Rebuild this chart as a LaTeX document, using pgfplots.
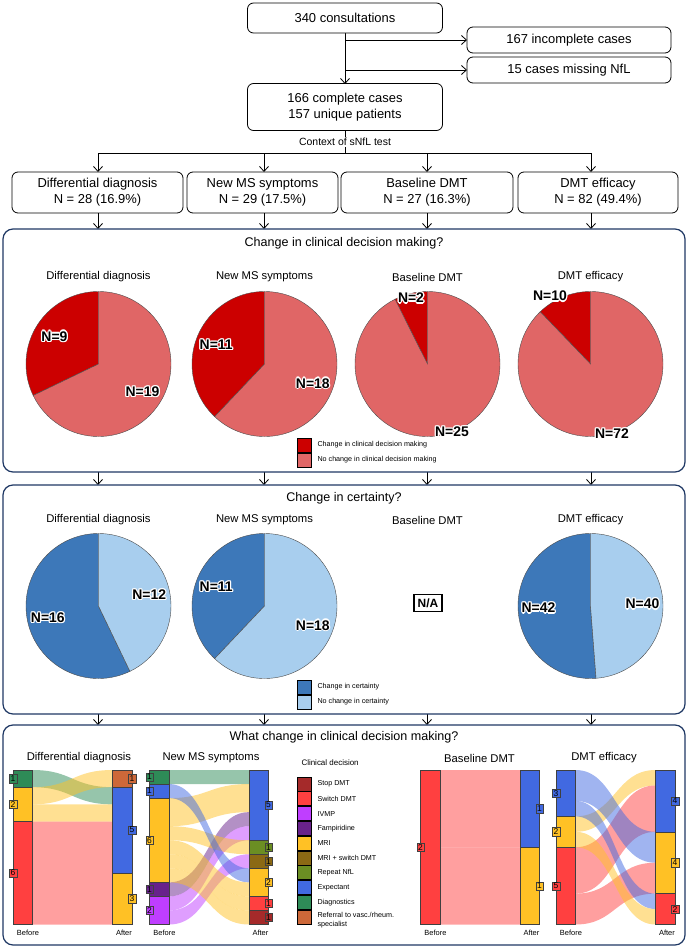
\documentclass[border=0pt]{standalone}
\usepackage{fontspec}
\setmainfont{Liberation Sans}
\usepackage{pgfplots}
\pgfplotsset{compat=1.18}
\usetikzlibrary{arrows.meta}

\definecolor{chg}{RGB}{204,0,0}
\definecolor{nochg}{RGB}{224,102,102}
\definecolor{cert}{RGB}{61,120,185}
\definecolor{nocert}{RGB}{168,206,238}
\definecolor{panel}{RGB}{31,56,100}
\definecolor{cStop}{RGB}{165,42,42}
\definecolor{cSwitch}{RGB}{255,64,64}
\definecolor{cIVMP}{RGB}{191,62,255}
\definecolor{cFamp}{RGB}{104,34,139}
\definecolor{cMRI}{RGB}{255,193,37}
\definecolor{cMRIsw}{RGB}{139,105,20}
\definecolor{cNfL}{RGB}{107,142,35}
\definecolor{cExp}{RGB}{65,105,225}
\definecolor{cDiag}{RGB}{46,139,87}
\definecolor{cRef}{RGB}{205,104,57}

\pgfplotsset{
  pieaxis/.style={anchor=center, width=145bp, height=145bp, scale only axis,
    hide axis, xmin=-1, xmax=1, ymin=-1, ymax=1, clip=false},
  sankaxis/.style={anchor=north west, width=119bp, height=154.5bp, scale only axis,
    hide axis, xmin=0, xmax=119, ymin=0, y dir=reverse, clip=false},
}
\tikzset{lab/.style={draw=black!75, line width=0.4bp, inner sep=1.2bp, minimum width=7.5bp,
    font=\fontsize{8.5}{8.5}\selectfont}}

% pie: centre x, centre y (px from top left), n1, n2, colour 1, colour 2
\newcommand{\pie}[6]{%
  \pgfmathsetmacro{\pa}{90+360*#3/(#3+#4)}%
  \pgfmathsetmacro{\pb}{\pa-360}%
  \begin{axis}[pieaxis, at={(#1bp,-#2bp)}]
    \filldraw[fill=#5, draw=black!70, line width=0.4bp] (axis cs:0,0) -- (axis cs:0,1)
      arc[start angle=90, end angle=\pa, radius=72.5bp] -- cycle;
    \filldraw[fill=#6, draw=black!70, line width=0.4bp] (axis cs:0,0) -- (axis cs:0,1)
      arc[start angle=90, end angle=\pb, radius=72.5bp] -- cycle;
  \end{axis}}

\newcommand{\pielabfont}{\bfseries\fontsize{14}{14}\selectfont}
\newcommand{\halo}[2]{%
  \foreach \d in {0,45,...,315}
    \node[text=white, font=\pielabfont, shift={(\d:1.3bp)}] at (#1) {#2};
  \node[font=\pielabfont] at (#1) {#2};}
\newcommand{\pielabs}[4]{%
  \pgfmathsetmacro{\ma}{90+180*#3/(#3+#4)}%
  \pgfmathsetmacro{\mb}{90+360*#3/(#3+#4)+180*#4/(#3+#4)}%
  \pgfmathsetmacro{\xa}{#1+52*cos(\ma)}\pgfmathsetmacro{\ya}{#2-52*sin(\ma)}%
  \pgfmathsetmacro{\xb}{#1+52*cos(\mb)}\pgfmathsetmacro{\yb}{#2-52*sin(\mb)}%
  \halo{\xa,\ya}{N=#3}\halo{\xb,\yb}{N=#4}}

% sankey pieces: flow from [a0,b0] before to [a1,b1] after
\newcommand{\flow}[5]{%
  \fill[#5, fill opacity=0.5] (axis cs:19.5,#1) .. controls (axis cs:59.25,#1) and (axis cs:59.25,#3) .. (axis cs:99.5,#3)
    -- (axis cs:99.5,#4) .. controls (axis cs:59.25,#4) and (axis cs:59.25,#2) .. (axis cs:19.5,#2) -- cycle;}
\newcommand{\bbar}[4]{%
  \addplot[fill=#3, draw=black!75, line width=0.5bp] coordinates {(0,#1) (19.5,#1) (19.5,#2) (0,#2)} -- cycle;
  \node[lab, fill=#3] at (axis cs:0,{(#1+#2)/2}) {#4};}
\newcommand{\abar}[4]{%
  \addplot[fill=#3, draw=black!75, line width=0.5bp] coordinates {(99.5,#1) (119,#1) (119,#2) (99.5,#2)} -- cycle;
  \node[lab, fill=#3] at (axis cs:119,{(#1+#2)/2}) {#4};}

\begin{document}
\begin{tikzpicture}
\path[use as bounding box] (0,0) rectangle (688bp,-948bp);

% ---- pies: change in clinical decision making
\pie{98.5}{364}{9}{19}{chg}{nochg}
\pie{264.5}{364}{11}{18}{chg}{nochg}
\pie{427.5}{364}{2}{25}{chg}{nochg}
\pie{590.5}{364}{10}{72}{chg}{nochg}
% ---- pies: change in certainty
\pie{98.5}{606}{16}{12}{cert}{nocert}
\pie{264.5}{606}{11}{18}{cert}{nocert}
\pie{590.5}{606}{42}{40}{cert}{nocert}

% ---- sankeys
\begin{axis}[sankaxis, at={(13bp,-770bp)}, ymax=9]
  \flow{0}{1}{1}{2}{cDiag}
  \flow{1}{2}{0}{1}{cMRI}
  \flow{2}{3}{2}{3}{cMRI}
  \flow{3}{9}{3}{9}{cSwitch}
  \bbar{0}{1}{cDiag}{1}
  \bbar{1}{3}{cMRI}{2}
  \bbar{3}{9}{cSwitch}{6}
  \abar{0}{1}{cRef}{1}
  \abar{1}{6}{cExp}{5}
  \abar{6}{9}{cMRI}{3}
\end{axis}

\begin{axis}[sankaxis, at={(149.5bp,-770bp)}, ymax=11]
  \flow{0}{1}{0}{1}{cDiag}
  \flow{2}{4}{1}{3}{cMRI}
  \flow{8}{9}{3}{4}{cFamp}
  \flow{9}{10}{4}{5}{cIVMP}
  \flow{4}{5}{5}{6}{cMRI}
  \flow{10}{11}{6}{7}{cIVMP}
  \flow{1}{2}{7}{8}{cExp}
  \flow{5}{6}{8}{9}{cMRI}
  \flow{6}{7}{9}{10}{cMRI}
  \flow{7}{8}{10}{11}{cMRI}
  \bbar{0}{1}{cDiag}{1}
  \bbar{1}{2}{cExp}{1}
  \bbar{2}{8}{cMRI}{6}
  \bbar{8}{9}{cFamp}{1}
  \bbar{9}{11}{cIVMP}{2}
  \abar{0}{5}{cExp}{5}
  \abar{5}{6}{cNfL}{1}
  \abar{6}{7}{cMRIsw}{1}
  \abar{7}{9}{cMRI}{2}
  \abar{9}{10}{cSwitch}{1}
  \abar{10}{11}{cStop}{1}
\end{axis}

\begin{axis}[sankaxis, at={(420.5bp,-770bp)}, ymax=2]
  \flow{0}{1}{0}{1}{cSwitch}
  \flow{1}{2}{1}{2}{cSwitch}
  \bbar{0}{2}{cSwitch}{2}
  \abar{0}{1}{cExp}{1}
  \abar{1}{2}{cMRI}{1}
\end{axis}

\begin{axis}[sankaxis, at={(556bp,-770bp)}, ymax=10]
  \flow{3}{4}{0}{1}{cMRI}
  \flow{5}{8}{1}{4}{cSwitch}
  \flow{0}{2}{4}{6}{cExp}
  \flow{8}{10}{6}{8}{cSwitch}
  \flow{2}{3}{8}{9}{cExp}
  \flow{4}{5}{9}{10}{cMRI}
  \bbar{0}{3}{cExp}{3}
  \bbar{3}{5}{cMRI}{2}
  \bbar{5}{10}{cSwitch}{5}
  \abar{0}{4}{cExp}{4}
  \abar{4}{8}{cMRI}{4}
  \abar{8}{10}{cSwitch}{2}
\end{axis}

\begin{scope}[x=1bp, y=-1bp,
  box/.style={draw=black, line width=0.8bp, rounded corners=6bp, align=center, inner sep=0pt,
    font=\fontsize{13}{16}\selectfont},
  arr/.style={-{Straight Barb[length=5bp,width=9bp]}, line width=0.8bp},
  pan/.style={draw=panel, line width=1.2bp, rounded corners=10bp},
  ttl/.style={font=\fontsize{12.6}{14}\selectfont},
  sub/.style={font=\fontsize{11.3}{13}\selectfont},
  leg/.style={font=\fontsize{7.2}{8.5}\selectfont, anchor=west, align=left}]

% ---- flow chart
\draw[line width=0.8bp] (345,33) -- (345,131);
\draw[arr] (345,70) -- (345,84);
\draw[arr] (345,40) -- (467,40);
\draw[arr] (345,70) -- (467,70);
\node[box, minimum width=195bp, minimum height=30bp, fill=white] at (345,18) {340 consultations};
\node[box, minimum width=204bp, minimum height=26bp] at (569,40) {167 incomplete cases};
\node[box, minimum width=204bp, minimum height=26bp] at (569,70) {15 cases missing NfL};
\node[box, minimum width=195bp, minimum height=47bp, fill=white] at (345,107) {166 complete cases\\157 unique patients};
\draw[line width=0.8bp] (345,131) -- (345,153);
\node[fill=white, inner sep=1.5bp, font=\fontsize{10.5}{12}\selectfont] at (345,142) {Context of sNfL test};
\draw[line width=0.8bp] (98,153) -- (591,153);
\foreach \x in {98,264,427,591} {
  \draw[arr] (\x,153) -- (\x,172);
  \draw[arr] (\x,213) -- (\x,229);
  \draw[arr] (\x,472) -- (\x,485);
  \draw[arr] (\x,714) -- (\x,725);
}
\node[box, minimum width=171bp, minimum height=41bp] at (97.5,192.5) {Differential diagnosis\\N = 28 (16.9\%)};
\node[box, minimum width=151bp, minimum height=41bp] at (262.5,192.5) {New MS symptoms\\N = 29 (17.5\%)};
\node[box, minimum width=172bp, minimum height=41bp] at (427,192.5) {Baseline DMT\\N = 27 (16.3\%)};
\node[box, minimum width=160bp, minimum height=41bp] at (598,192.5) {DMT efficacy\\N = 82 (49.4\%)};

% ---- panel 1
\draw[pan] (3,229) rectangle (685,472);
\node[ttl] at (344,243) {Change in clinical decision making?};
\node[sub] at (98.5,277) {Differential diagnosis};
\node[sub] at (264.5,277) {New MS symptoms};
\node[sub] at (427.5,277) {Baseline DMT};
\node[sub] at (590.5,277) {DMT efficacy};
\pielabs{98.5}{364}{9}{19}
\pielabs{264.5}{364}{11}{18}
\halo{411,298}{N=2}
\halo{452,432}{N=25}
\halo{550,296}{N=10}
\halo{612,434}{N=72}
\draw[fill=chg, line width=1bp] (297.5,438) rectangle (311.5,452);
\draw[fill=nochg, line width=1bp] (297.5,453) rectangle (311.5,467);
\node[leg] at (314,445) {Change in clinical decision making};
\node[leg] at (314,460) {No change in clinical decision making};

% ---- panel 2
\draw[pan] (3,485) rectangle (685,714);
\node[ttl] at (344,498) {Change in certainty?};
\node[sub] at (98.5,520) {Differential diagnosis};
\node[sub] at (264.5,520) {New MS symptoms};
\node[sub] at (427.5,520) {Baseline DMT};
\node[sub] at (590.5,520) {DMT efficacy};
\pielabs{98.5}{606}{16}{12}
\pielabs{264.5}{606}{11}{18}
\pielabs{590.5}{606}{42}{40}
\node[draw, line width=1.8bp, inner sep=4bp, font=\bfseries\fontsize{12}{12}\selectfont] at (428,603) {N/A};
\draw[fill=cert, line width=1bp] (297.5,680) rectangle (311.5,694);
\draw[fill=nocert, line width=1bp] (297.5,695) rectangle (311.5,709);
\node[leg] at (314,687) {Change in certainty};
\node[leg] at (314,702) {No change in certainty};

% ---- panel 3
\draw[pan] (3,725) rectangle (685,945);
\node[ttl] at (344,737) {What change in clinical decision making?};
\node[sub] at (79,758) {Differential diagnosis};
\node[sub] at (211,758) {New MS symptoms};
\node[sub] at (479.5,758) {Baseline DMT};
\node[sub] at (604,758) {DMT efficacy};
\foreach \x in {13,149.5,420.5,556} {
  \node[font=\fontsize{7.5}{8}\selectfont] at (\x+15,933) {Before};
  \node[font=\fontsize{7.5}{8}\selectfont] at (\x+111,933) {After};
}
\node[font=\fontsize{8}{9}\selectfont, anchor=west] at (298,763) {Clinical decision};
\foreach \c/\t [count=\i from 0] in {cStop/Stop DMT, cSwitch/Switch DMT, cIVMP/IVMP,
    cFamp/Fampiridine, cMRI/MRI, cMRIsw/MRI + switch DMT, cNfL/Repeat NfL,
    cExp/Expectant, cDiag/Diagnostics} {
  \draw[fill=\c, line width=1bp] (297.5,777+14.8*\i) rectangle (311.5,791+14.8*\i);
  \node[leg] at (314,784+14.8*\i) {\t};
}
\draw[fill=cRef, line width=1bp] (297.5,910.2) rectangle (311.5,924.2);
\node[leg] at (314,920) {Referral to vasc./rheum.\\specialist};
\end{scope}
\end{tikzpicture}
\end{document}
